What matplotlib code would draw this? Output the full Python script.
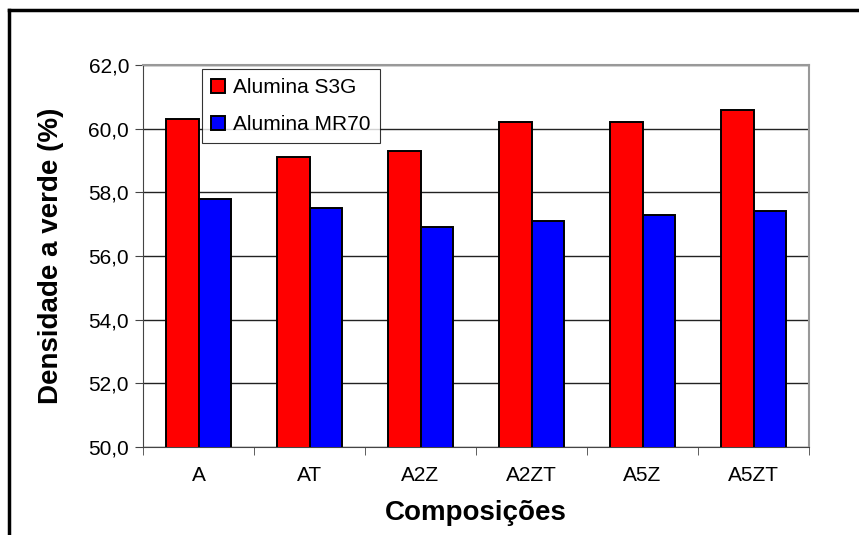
import matplotlib.pyplot as plt
import numpy as np
from matplotlib.lines import Line2D

plt.rcParams['font.family'] = ['Liberation Sans', 'DejaVu Sans']

# Data
categories = ["A", "AT", "A2Z", "A2ZT", "A5Z", "A5ZT"]
s3g = [60.3, 59.1, 59.3, 60.2, 60.2, 60.6]
mr70 = [57.8, 57.5, 56.9, 57.1, 57.3, 57.4]

fig = plt.figure(figsize=(8.59, 5.35), dpi=100)
W, H = 859, 535
ax = fig.add_axes([143 / W, 1 - 447 / H, (809 - 143) / W, (447 - 65) / H])

x = np.arange(len(categories))
w = 0.29
ax.bar(x - w / 2, s3g, w, color="#ff0000", edgecolor="black", linewidth=1.4,
       label="Alumina S3G", zorder=3)
ax.bar(x + w / 2, mr70, w, color="#0000ff", edgecolor="black", linewidth=1.4,
       label="Alumina MR70", zorder=3)

ax.set_ylim(50, 62)
ax.set_xlim(-0.5, len(categories) - 0.5)
yt = np.arange(50, 62.1, 2)
ax.set_yticks(yt)
ax.set_yticklabels([f"{v:.1f}".replace(".", ",") for v in yt], fontsize=15)
ax.yaxis.grid(True, color="#222222", linewidth=1, zorder=0)

ax.set_xticks(x)
ax.set_xticklabels(categories, fontsize=15)
ax.tick_params(axis="x", length=0, pad=14)
ax.set_xticks(np.arange(-0.5, len(categories)), minor=True)
ax.tick_params(axis="x", which="minor", length=6, color="#444444")
ax.tick_params(axis="y", length=6, color="#444444", pad=4)

for side in ["top", "right"]:
    ax.spines[side].set_color("#999999")
    ax.spines[side].set_linewidth(1.5)
ax.spines["left"].set_color("#444444")
ax.spines["bottom"].set_color("#444444")

ax.set_xlabel("Composições", fontsize=20, fontweight="bold", va="center")
ax.xaxis.set_label_coords(0.5, (447 - 513) / 382)
ax.set_ylabel("Densidade a verde (%)", fontsize=20, fontweight="bold", va="center")
ax.yaxis.set_label_coords((51 - 143) / 666, 0.5)

leg = ax.legend(loc="upper left", bbox_to_anchor=((202 - 143) / 666, 1 - 4 / 382),
                fontsize=15, frameon=True, fancybox=False, edgecolor="black",
                handlelength=0.65, handleheight=0.65, handletextpad=0.4,
                borderpad=0.45, labelspacing=0.85, borderaxespad=0)
leg.get_frame().set_linewidth(0.8)

# outer frame (left and top edges)
fig.add_artist(Line2D([9 / W, 9 / W], [0, 1 - 10 / H], color="black", linewidth=2.5,
                      transform=fig.transFigure))
fig.add_artist(Line2D([9 / W, 1], [1 - 10 / H, 1 - 10 / H], color="black", linewidth=2.5,
                      transform=fig.transFigure))

fig.savefig("out.png", dpi=100)
